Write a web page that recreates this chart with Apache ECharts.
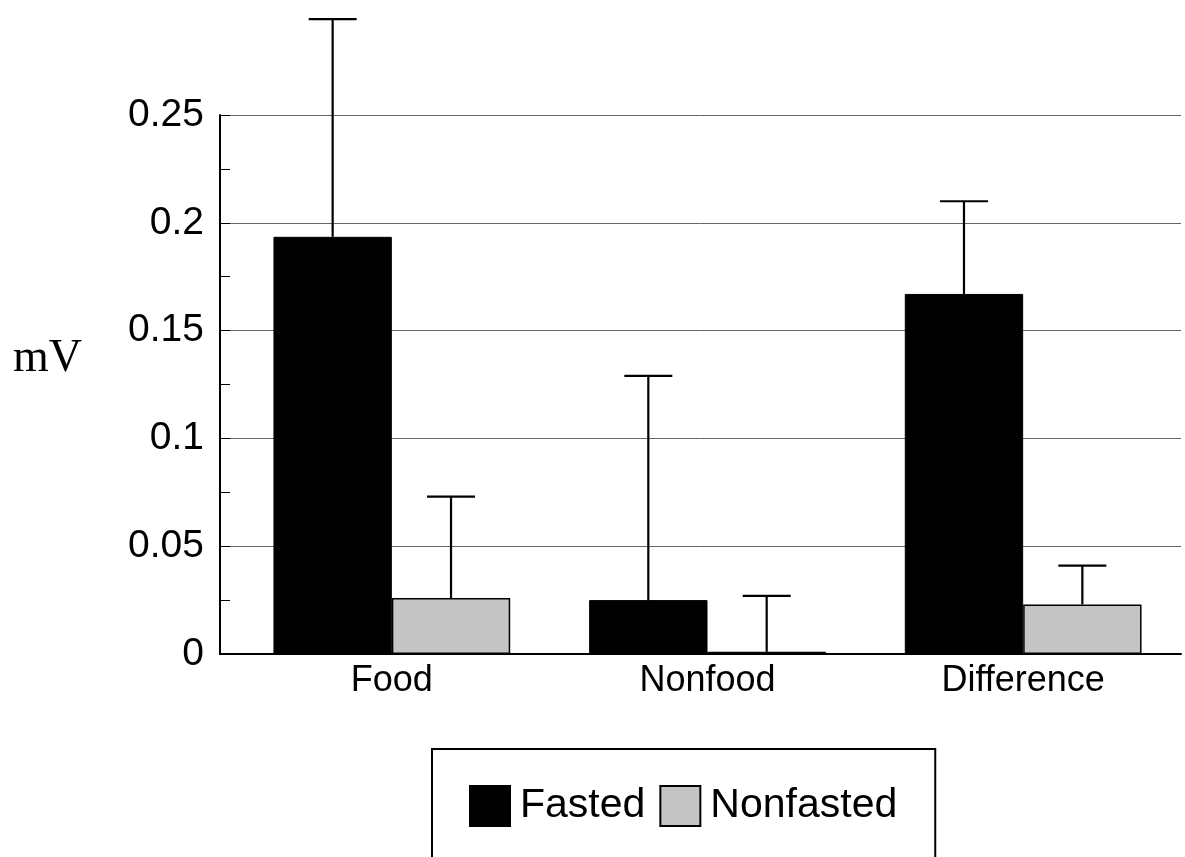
<!DOCTYPE html>
<html>
<head>
<meta charset="utf-8">
<script src="https://cdn.jsdelivr.net/npm/echarts@6/dist/echarts.min.js"></script>
<style>
html,body{margin:0;padding:0;background:#fff;}
#chart{width:1185px;height:857px;}
</style>
</head>
<body>
<div id="chart"></div>
<script>
const categories = ['Food', 'Nonfood', 'Difference'];
const seriesNames = ['Fasted', 'Nonfasted'];
const fastedValues = [0.1935, 0.025, 0.167];
const fastedErrors = [0.101, 0.104, 0.043];
const nonfastedValues = [0.026, 0.001, 0.023];
const nonfastedErrors = [0.047, 0.026, 0.018];
const yTicks = { min: 0, max: 0.25, interval: 0.05 };

const font = '"Liberation Sans", Arial, sans-serif';

const errorData = [];
categories.forEach((c, i) => {
  errorData.push([i, fastedValues[i], fastedErrors[i], 0]);
  errorData.push([i, nonfastedValues[i], nonfastedErrors[i], 1]);
});

function renderError(params, api) {
  const c = api.value(0), v = api.value(1), e = api.value(2), s = api.value(3);
  const base = api.coord([c, v]);
  const top = api.coord([c, v + e]);
  const bw = api.size([1, 0])[0];
  const x = base[0] + (s === 0 ? -1 : 1) * bw * 0.1875;
  const half = 24;
  const st = { stroke: '#000', lineWidth: 2.2 };
  return {
    type: 'group',
    children: [
      { type: 'line', shape: { x1: x, y1: base[1], x2: x, y2: top[1] }, style: st },
      { type: 'line', shape: { x1: x - half, y1: top[1], x2: x + half, y2: top[1] }, style: st }
    ]
  };
}

const chart = echarts.init(document.getElementById('chart'));
chart.setOption({
  animation: false,
  backgroundColor: '#fff',
  grid: [
    { left: 220, right: 4, top: 115, bottom: 203 },
    { left: 234, right: 4, top: 115, bottom: 203 }
  ],
  xAxis: [
    {
      gridIndex: 0, type: 'value', min: 0, max: 1,
      axisLine: { show: true, lineStyle: { color: '#000', width: 2 } },
      axisTick: { show: false }, axisLabel: { show: false }, splitLine: { show: false }
    },
    {
      gridIndex: 1, type: 'category', data: categories,
      axisLine: { show: false }, axisTick: { show: false },
      axisLabel: { fontSize: 36, color: '#000', fontFamily: font, margin: 9 }
    }
  ],
  yAxis: [
    {
      gridIndex: 0, type: 'value', min: yTicks.min, max: yTicks.max, interval: yTicks.interval,
      axisLine: { show: true, lineStyle: { color: '#000', width: 2 } },
      axisTick: { show: true, inside: true, length: 10, lineStyle: { color: '#000' } },
      minorTick: { show: true, splitNumber: 2, length: 10, lineStyle: { color: '#000' } },
      splitLine: { show: true, lineStyle: { color: '#666', width: 1 } },
      axisLabel: { fontSize: 39, color: '#000', fontFamily: font, margin: 16,
        formatter: v => String(+v.toFixed(3)) }
    },
    {
      gridIndex: 1, type: 'value', min: yTicks.min, max: yTicks.max, interval: yTicks.interval,
      show: false
    }
  ],
  legend: {
    data: seriesNames,
    left: 432, top: 749,
    padding: [36, 38, 60, 37],
    borderColor: '#000', borderWidth: 2,
    itemWidth: 40, itemHeight: 40, itemGap: 14,
    icon: 'rect',
    textStyle: { fontSize: 41, color: '#000', fontFamily: font, padding: [0, 0, 0, 5] }
  },
  graphic: [
    { type: 'text', left: 13, top: 336, style: { text: 'mV', font: '46px "Liberation Serif", "Times New Roman", serif', fill: '#000' } }
  ],
  series: [
    {
      name: seriesNames[0], type: 'bar', xAxisIndex: 1, yAxisIndex: 1,
      data: fastedValues, barGap: '0%', barCategoryGap: '25%',
      itemStyle: { color: '#000', borderColor: '#000', borderWidth: 1 }
    },
    {
      name: seriesNames[1], type: 'bar', xAxisIndex: 1, yAxisIndex: 1,
      data: nonfastedValues, barGap: '0%', barCategoryGap: '25%',
      itemStyle: { color: '#c4c4c4', borderColor: '#000', borderWidth: 1.5 }
    },
    {
      type: 'custom', xAxisIndex: 1, yAxisIndex: 1, clip: false, z: 5,
      renderItem: renderError, data: errorData, silent: true
    }
  ]
});
</script>
</body>
</html>
